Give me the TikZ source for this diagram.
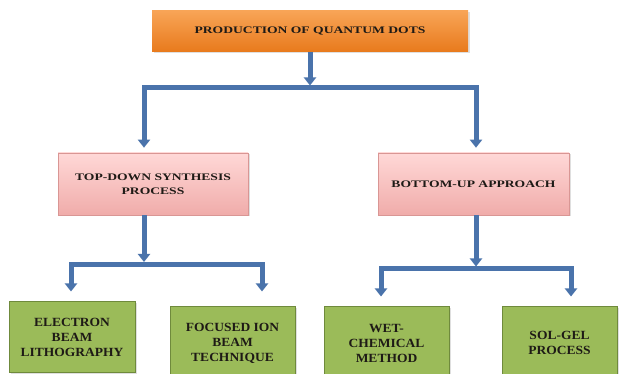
\documentclass[tikz,border=0pt]{standalone}
\usepackage{fontspec}
\setmainfont{Liberation Serif}
\newfontfamily\headfont[FakeStretch=1.36]{Liberation Serif}
\newfontfamily\leaffont[FakeStretch=1.08]{Liberation Serif}
\usetikzlibrary{arrows.meta,shadows}

\definecolor{arrowblue}{HTML}{4A73AB}
\definecolor{orangetop}{HTML}{F8A456}
\definecolor{orangebot}{HTML}{E87A1C}
\definecolor{pinktop}{HTML}{FFD8D7}
\definecolor{pinkbot}{HTML}{F0ACAA}
\definecolor{pinkline}{HTML}{D99694}
\definecolor{leafgreen}{HTML}{9BBB59}
\definecolor{leafline}{HTML}{6F8A3C}
\definecolor{inkdark}{HTML}{1E1A16}

\tikzset{
  boxshadow/.style={drop shadow={opacity=0.25,shadow xshift=1.5pt,shadow yshift=-1.5pt}},
  rootbox/.style={rectangle, minimum width=316pt, minimum height=41pt,
    top color=orangetop, bottom color=orangebot, boxshadow,
    font=\headfont\bfseries\fontsize{10}{14}\selectfont, text=inkdark},
  midbox/.style={rectangle, draw=pinkline, line width=0.6pt,
    minimum width=190pt, minimum height=62pt,
    top color=pinktop, bottom color=pinkbot, boxshadow,
    align=center, font=\headfont\bfseries\fontsize{10}{14}\selectfont, text=inkdark},
  leafbox/.style={rectangle, draw=leafline, line width=1pt,
    minimum width=125pt, minimum height=72pt, fill=leafgreen, boxshadow,
    align=center, font=\leaffont\bfseries\fontsize{12.5}{15}\selectfont, text=inkdark},
  barline/.style={draw=arrowblue, line width=5pt, line cap=rect},
  arrowline/.style={draw=arrowblue, line width=5pt,
    -{Triangle[width=12pt,length=8pt]}},
}

\begin{document}
\begin{tikzpicture}[x=1pt,y=-1pt]
  \useasboundingbox (0,0) rectangle (619,374);
  \clip (0,0) rectangle (619,374);

  % boxes
  \node[rootbox] (root) at (310,31.5) {PRODUCTION OF QUANTUM DOTS};
  \node[midbox] (topdown) at (153,184) {TOP-DOWN SYNTHESIS\\PROCESS};
  \node[midbox, minimum width=191pt] (bottomup) at (473.5,184) {BOTTOM-UP APPROACH};
  \node[leafbox, minimum width=126pt, minimum height=70pt] (ebl) at (72,337) {ELECTRON\\BEAM\\LITHOGRAPHY};
  \node[leafbox] (fib) at (232.5,343) {FOCUSED ION\\BEAM\\TECHNIQUE};
  \node[leafbox] (wet) at (386.5,343) {WET-\\CHEMICAL\\METHOD};
  \node[leafbox, minimum width=115pt] (solgel) at (559.5,343) {SOL-GEL\\PROCESS};

  % junction points of the bars
  \coordinate (rootbar) at (310,85.5);
  \coordinate (rootL) at (144,88);
  \coordinate (rootR) at (476,88);
  \coordinate (tdbar) at (144,262);
  \coordinate (tdL) at (71,264.5);
  \coordinate (tdR) at (262,264.5);
  \coordinate (bubar) at (476,266.5);
  \coordinate (buL) at (381,269);
  \coordinate (buR) at (571,269);

  % first level
  \draw[arrowline] (root.south -| rootbar) -- (rootbar);
  \draw[barline] (rootL) -- (rootR);
  \draw[arrowline, shorten >=5pt] (rootL) -- (rootL |- topdown.north);
  \draw[arrowline, shorten >=5pt] (rootR) -- (rootR |- bottomup.north);

  % top-down branch
  \draw[arrowline] (topdown.south -| tdbar) -- (tdbar);
  \draw[barline] (tdL) -- (tdR);
  \draw[arrowline, shorten >=10pt] (tdL) -- (tdL |- ebl.north);
  \draw[arrowline, shorten >=15pt] (tdR) -- (tdR |- fib.north);

  % bottom-up branch
  \draw[arrowline] (bottomup.south -| bubar) -- (bubar);
  \draw[barline] (buL) -- (buR);
  \draw[arrowline, shorten >=10pt] (buL) -- (buL |- wet.north);
  \draw[arrowline, shorten >=10pt] (buR) -- (buR |- solgel.north);
\end{tikzpicture}
\end{document}
